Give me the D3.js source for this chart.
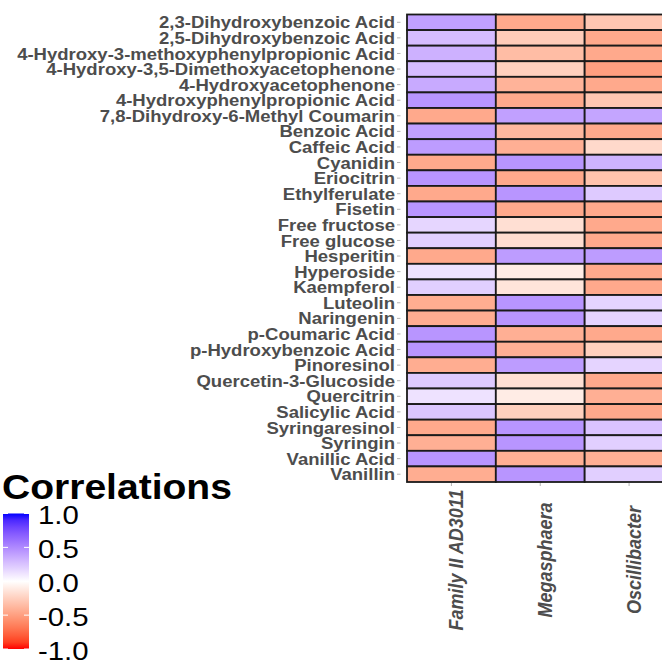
<!DOCTYPE html>
<html lang="en">
<head>
<meta charset="UTF-8"/>
<title>Correlations heatmap</title>
<script src="https://cdn.jsdelivr.net/npm/d3@7"></script>
<style>
  body { margin: 0; background: #fff; }
  text { font-family: "Liberation Sans", Arial, sans-serif; }
</style>
</head>
<body>
<script>
var w = 662, h = 660;

var metabolites = ["2,3-Dihydroxybenzoic Acid", "2,5-Dihydroxybenzoic Acid",
  "4-Hydroxy-3-methoxyphenylpropionic Acid", "4-Hydroxy-3,5-Dimethoxyacetophenone",
  "4-Hydroxyacetophenone", "4-Hydroxyphenylpropionic Acid", "7,8-Dihydroxy-6-Methyl Coumarin",
  "Benzoic Acid", "Caffeic Acid", "Cyanidin", "Eriocitrin", "Ethylferulate", "Fisetin",
  "Free fructose", "Free glucose", "Hesperitin", "Hyperoside", "Kaempferol", "Luteolin",
  "Naringenin", "p-Coumaric Acid", "p-Hydroxybenzoic Acid", "Pinoresinol",
  "Quercetin-3-Glucoside", "Quercitrin", "Salicylic Acid", "Syringaresinol", "Syringin",
  "Vanillic Acid", "Vanillin"];

var genera = ["Family II AD3011", "Megasphaera", "Oscillibacter"];

var familyII = [0.40, 0.28, 0.33, 0.28, 0.36, 0.45, -0.45, 0.40, 0.42, -0.45,
  0.45, -0.45, 0.45, 0.17, 0.20, -0.45, 0.12, 0.20, -0.43, -0.43,
  0.45, 0.45, -0.43, 0.22, 0.12, 0.24, -0.45, -0.42, 0.45, -0.43];
var megasphaera = [-0.45, -0.27, -0.35, -0.25, -0.40, -0.45, 0.40, -0.38, -0.42, 0.45,
  -0.45, 0.45, -0.45, -0.17, -0.18, 0.42, -0.10, -0.14, 0.45, 0.45,
  -0.42, -0.42, 0.42, -0.17, -0.10, -0.25, 0.45, 0.45, -0.42, 0.45];
var oscillibacter = [-0.30, -0.45, -0.45, -0.50, -0.45, -0.30, 0.38, -0.45, -0.20, 0.32,
  -0.32, 0.22, -0.45, -0.45, -0.45, 0.42, -0.45, -0.45, 0.18, 0.18,
  -0.45, -0.25, 0.18, -0.45, -0.42, -0.45, 0.25, 0.20, -0.42, 0.20];

var legendTicks = [1.0, 0.5, 0.0, -0.5, -1.0];

var columns = [familyII, megasphaera, oscillibacter];
var cells = [];
metabolites.forEach(function(m, i) {
  genera.forEach(function(g, j) {
    cells.push({ row: m, col: g, value: columns[j][i] });
  });
});

var color = d3.scaleLinear()
  .domain([-1, 0, 1])
  .range(["#ff0000", "#ffffff", "#0000ff"])
  .interpolate(d3.interpolateLab);

var xScale = d3.scaleBand().domain(genera).range([407, 673.5]);
var yScale = d3.scaleBand().domain(metabolites).range([14.5, 482]);

var svg = d3.select("body").append("svg")
  .attr("width", w)
  .attr("height", h);

// tiles
svg.selectAll("rect.cell")
  .data(cells)
  .enter()
  .append("rect")
  .attr("class", "cell")
  .attr("x", function(d) { return xScale(d.col); })
  .attr("y", function(d) { return yScale(d.row); })
  .attr("width", xScale.bandwidth())
  .attr("height", yScale.bandwidth())
  .attr("fill", function(d) { return color(d.value); })
  .attr("stroke", "#1a1a1a")
  .attr("stroke-width", 1.8);

// y axis labels
var yLab = svg.selectAll("g.ylab")
  .data(metabolites)
  .enter()
  .append("g")
  .attr("class", "ylab")
  .attr("transform", function(d) { return "translate(395," + (yScale(d) + yScale.bandwidth() / 2) + ") scale(1.09,1)"; });
yLab.append("text")
  .text(function(d) { return d; })
  .attr("text-anchor", "end")
  .attr("dy", "0.36em")
  .attr("font-size", "17px")
  .attr("font-weight", "bold")
  .attr("fill", "#4d4d4d");
svg.selectAll("line.ytick")
  .data(metabolites)
  .enter()
  .append("line")
  .attr("x1", 397).attr("x2", 400.5)
  .attr("y1", function(d) { return yScale(d) + yScale.bandwidth() / 2; })
  .attr("y2", function(d) { return yScale(d) + yScale.bandwidth() / 2; })
  .attr("stroke", "#b3b3b3")
  .attr("stroke-width", 1);

// x axis labels
svg.selectAll("line.xtick")
  .data(genera)
  .enter()
  .append("line")
  .attr("x1", function(d) { return xScale(d) + xScale.bandwidth() / 2; })
  .attr("x2", function(d) { return xScale(d) + xScale.bandwidth() / 2; })
  .attr("y1", 483).attr("y2", 486)
  .attr("stroke", "#b3b3b3")
  .attr("stroke-width", 1);
svg.selectAll("g.xlab")
  .data(genera)
  .enter()
  .append("g")
  .attr("transform", function(d) { return "translate(" + (xScale(d) + xScale.bandwidth() / 2 + 12) + ",560) scale(1.1,1) rotate(-90)"; })
  .append("text")
  .text(function(d) { return d; })
  .attr("text-anchor", "middle")
  .attr("font-size", "18px")
  .attr("font-weight", "bold")
  .attr("font-style", "italic")
  .attr("fill", "#4d4d4d");

// legend
var legScale = d3.scaleLinear().domain([1, -1]).range([513.5, 649]);

var grad = svg.append("defs").append("linearGradient")
  .attr("id", "corrGrad")
  .attr("x1", 0).attr("y1", 0).attr("x2", 0).attr("y2", 1);
d3.range(0, 21).forEach(function(k) {
  var v = 1 - k / 10;
  grad.append("stop")
    .attr("offset", (k / 20 * 100) + "%")
    .attr("stop-color", color(v));
});

svg.append("g")
  .attr("transform", "translate(2,499) scale(1.1,1)")
  .append("text")
  .text("Correlations")
  .attr("font-size", "35.5px")
  .attr("font-weight", "bold")
  .attr("fill", "#000");

svg.append("rect")
  .attr("x", 3)
  .attr("y", legScale(1))
  .attr("width", 26)
  .attr("height", legScale(-1) - legScale(1))
  .attr("fill", "url(#corrGrad)");

legendTicks.forEach(function(t) {
  svg.append("line")
    .attr("x1", 3).attr("x2", 8)
    .attr("y1", legScale(t)).attr("y2", legScale(t))
    .attr("stroke", "#fff").attr("stroke-width", 1);
  svg.append("line")
    .attr("x1", 24).attr("x2", 29)
    .attr("y1", legScale(t)).attr("y2", legScale(t))
    .attr("stroke", "#fff").attr("stroke-width", 1);
});

svg.selectAll("g.leglab")
  .data(legendTicks)
  .enter()
  .append("g")
  .attr("transform", function(d) { return "translate(38," + (legScale(d) + 1.5) + ") scale(1.13,1)"; })
  .append("text")
  .text(function(d) { return d3.format(".1f")(d).replace("−", "-"); })
  .attr("dy", "0.36em")
  .attr("font-size", "26px")
  .attr("fill", "#000");
</script>
</body>
</html>
